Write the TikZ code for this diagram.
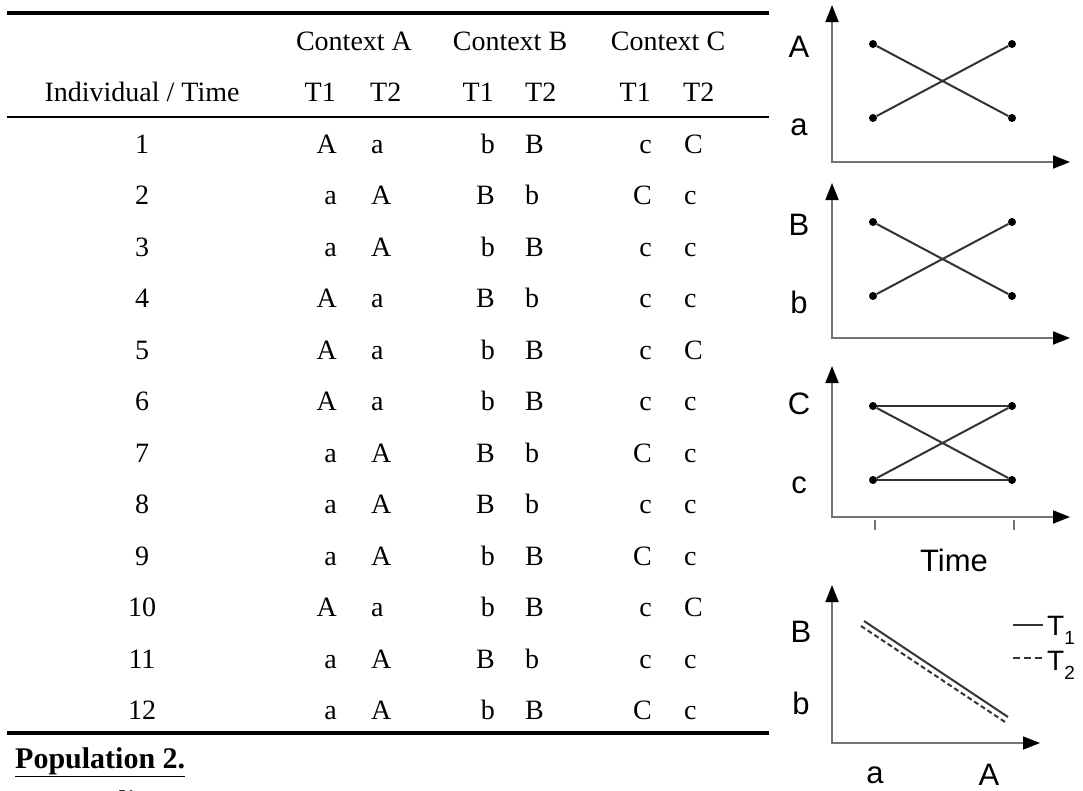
\documentclass[tikz,border=0pt]{standalone}
\usepackage{fontspec}
\setmainfont{Liberation Serif}
\setsansfont{Liberation Sans}
\usetikzlibrary{arrows.meta}

\begin{document}
\begin{tikzpicture}[x=1pt,y=-1pt,>={Triangle[length=17pt,width=13pt,color=black]},
  cell/.style={inner sep=0pt,anchor=base,font=\fontsize{28}{28}\selectfont},
  lbl/.style={inner sep=0pt,font=\sffamily\fontsize{31}{31}\selectfont},
  axis/.style={<->,draw=black!55,line width=1.8pt},
  trace/.style={draw=black!80,line width=2pt},
  tick/.style={draw=black!55,line width=1.2pt},
  dot/.style={circle,fill=black,inner sep=0pt,minimum size=8pt}]
  \clip (0,0) rectangle (1083,790);

  % table rules
  \draw[line width=4pt] (7,13) -- (769,13);
  \draw[line width=1.5pt] (7,117) -- (769,117);
  \draw[line width=4pt] (7,733) -- (769,733);

  % header
  \node[cell] (ctxA) at (354,50) {Context A};
  \node[cell] (ctxB) at (510,50) {Context B};
  \node[cell] (ctxC) at (668,50) {Context C};
  \node[cell] (head) at (142,101) {Individual / Time};
  \node[cell,anchor=base east] (tA1) at (336,101) {T1};
  \node[cell,anchor=base west] (tA2) at (370,101) {T2};
  \node[cell,anchor=base east] (tB1) at (494,101) {T1};
  \node[cell,anchor=base west] (tB2) at (525,101) {T2};
  \node[cell,anchor=base east] (tC1) at (651,101) {T1};
  \node[cell,anchor=base west] (tC2) at (683,101) {T2};

  % rows
  \foreach \i/\one/\two/\three/\four/\five/\six in {1/A/a/b/B/c/C, 2/a/A/B/b/C/c,
      3/a/A/b/B/c/c, 4/A/a/B/b/c/c, 5/A/a/b/B/c/C, 6/A/a/b/B/c/c,
      7/a/A/B/b/C/c, 8/a/A/B/b/c/c, 9/a/A/b/B/C/c, 10/A/a/b/B/c/C,
      11/a/A/B/b/c/c, 12/a/A/b/B/C/c} {
    \pgfmathsetmacro\yy{153+51.5*(\i-1)}
    \node[cell] (n\i) at (142,\yy) {\i};
    \node[cell,anchor=base east] (a\i) at (337,\yy) {\one};
    \node[cell,anchor=base west] (aa\i) at (371,\yy) {\two};
    \node[cell,anchor=base east] (b\i) at (495,\yy) {\three};
    \node[cell,anchor=base west] (bb\i) at (525,\yy) {\four};
    \node[cell,anchor=base east] (c\i) at (652,\yy) {\five};
    \node[cell,anchor=base west] (cc\i) at (684,\yy) {\six};
  }

  \node[cell,anchor=base west,font=\bfseries\fontsize{30}{30}\selectfont] (pop) at (15,768) {\underline{Population 2.}};
  \node[cell,anchor=base west,font=\bfseries\fontsize{30}{30}\selectfont] (pers) at (15,811) {Personality};

  % context A plot
  \coordinate (o1) at (832,162);
  \coordinate (y1) at (832,5);
  \coordinate (x1) at (1070,162);
  \draw[axis] (y1) -- (o1) -- (x1);
  \node[dot] (p11) at (873,44) {};
  \node[dot] (p12) at (1012,44) {};
  \node[dot] (p13) at (873,118) {};
  \node[dot] (p14) at (1012,118) {};
  \draw[trace] (p11) -- (p14);
  \draw[trace] (p13) -- (p12);
  \node[lbl] (lA1) at (799,47) {A};
  \node[lbl] (la1) at (799,127) {a};

  % context B plot
  \coordinate (o2) at (832,338);
  \coordinate (y2) at (832,183);
  \coordinate (x2) at (1070,338);
  \draw[axis] (y2) -- (o2) -- (x2);
  \node[dot] (p21) at (873,222) {};
  \node[dot] (p22) at (1012,222) {};
  \node[dot] (p23) at (873,296) {};
  \node[dot] (p24) at (1012,296) {};
  \draw[trace] (p21) -- (p24);
  \draw[trace] (p23) -- (p22);
  \node[lbl] (lB2) at (799,225) {B};
  \node[lbl] (lb2) at (799,302) {b};

  % context C plot
  \coordinate (o3) at (832,517);
  \coordinate (y3) at (832,366);
  \coordinate (x3) at (1070,517);
  \draw[axis] (y3) -- (o3) -- (x3);
  \node[dot] (p31) at (873,406) {};
  \node[dot] (p32) at (1012,406) {};
  \node[dot] (p33) at (873,480) {};
  \node[dot] (p34) at (1012,480) {};
  \draw[trace] (p31) -- (p32);
  \draw[trace] (p33) -- (p34);
  \draw[trace] (p31) -- (p34);
  \draw[trace] (p33) -- (p32);
  \draw[tick] (875,520) -- (875,530);
  \draw[tick] (1014,520) -- (1014,530);
  \node[lbl] (lC3) at (799,404) {C};
  \node[lbl] (lc3) at (799,485) {c};
  \node[lbl] (time) at (954,560) {Time};

  % A against B plot
  \coordinate (o4) at (832,743);
  \coordinate (y4) at (832,585);
  \coordinate (x4) at (1040,743);
  \draw[axis] (y4) -- (o4) -- (x4);
  \coordinate (s1) at (864,621);
  \coordinate (s2) at (1008,717);
  \coordinate (d1) at (861,626);
  \coordinate (d2) at (1005,722);
  \draw[trace] (s1) -- (s2);
  \draw[trace,dash pattern=on 5pt off 3pt] (d1) -- (d2);
  \node[lbl] (lB4) at (801,632) {B};
  \node[lbl] (lb4) at (801,703) {b};
  \node[lbl] (la4) at (875,775) {a};
  \node[lbl] (lA4) at (989,775) {A};

  % legend
  \coordinate (k1) at (1013,625);
  \coordinate (k2) at (1043,625);
  \coordinate (k3) at (1013,658);
  \coordinate (k4) at (1043,658);
  \draw[trace,line width=1.4pt] (k1) -- (k2);
  \draw[trace,line width=1.4pt,dash pattern=on 7pt off 4pt] (k3) -- (k4);
  \node[lbl,anchor=base west,font=\sffamily\fontsize{28}{28}\selectfont] (t1) at (1047,635) {T\raisebox{-9pt}{\fontsize{19}{19}\selectfont 1}};
  \node[lbl,anchor=base west,font=\sffamily\fontsize{28}{28}\selectfont] (t2) at (1047,670) {T\raisebox{-9pt}{\fontsize{19}{19}\selectfont 2}};
\end{tikzpicture}
\end{document}
